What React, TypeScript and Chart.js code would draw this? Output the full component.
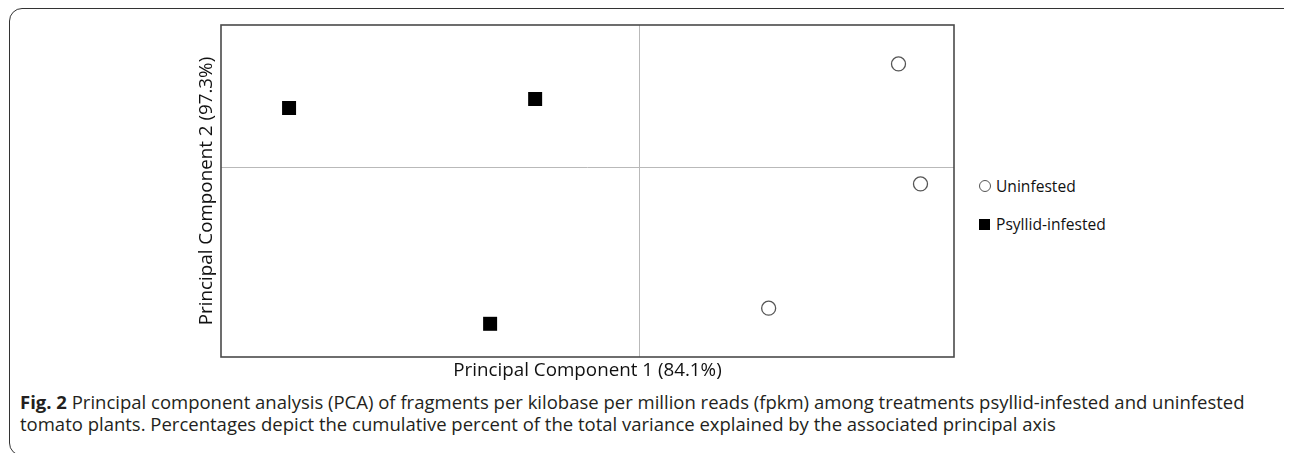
import React, { useEffect, useRef } from "react";
import { Chart, registerables } from "chart.js";

Chart.register(...registerables);

const seriesNames = ["Uninfested", "Psyllid-infested"];
const uninfestedX = [2.47, 2.68, 1.23];
const uninfestedY = [2.18, -0.35, -2.97];
const psyllidX = [-3.35, -1.0, -1.43];
const psyllidY = [1.25, 1.44, -3.3];
const xTitle = "Principal Component 1 (84.1%)";
const yTitle = "Principal Component 2 (97.3%)";
const xRange = [-4, 3];
const yRange = [-4, 3];
const captionBold = "Fig. 2";
const captionText =
  " Principal component analysis (PCA) of fragments per kilobase per million reads (fpkm) among treatments psyllid-infested and uninfested tomato plants. Percentages depict the cumulative percent of the total variance explained by the associated principal axis";

const FONT = "'Open Sans', 'Noto Sans', sans-serif";

const framePlugin = {
  id: "frame",
  afterDraw(chart: any) {
    const { ctx, chartArea } = chart;
    ctx.save();
    ctx.strokeStyle = "#4a4a4a";
    ctx.lineWidth = 1.6;
    ctx.strokeRect(chartArea.left, chartArea.top, chartArea.right - chartArea.left, chartArea.bottom - chartArea.top);
    ctx.restore();
  },
};

export default function App() {
  const ref = useRef<HTMLCanvasElement | null>(null);

  useEffect(() => {
    if (!ref.current) return;
    const zeroGrid = (c: any) => (c.tick && c.tick.value === 0 ? "#b9b9b9" : "rgba(0,0,0,0)");
    const chart = new Chart(ref.current, {
      type: "scatter",
      data: {
        datasets: [
          {
            label: seriesNames[0],
            data: uninfestedX.map((x, i) => ({ x, y: uninfestedY[i] })),
            pointStyle: "circle",
            pointRadius: 7,
            pointBackgroundColor: "#ffffff",
            pointBorderColor: "#555555",
            pointBorderWidth: 1.3,
          },
          {
            label: seriesNames[1],
            data: psyllidX.map((x, i) => ({ x, y: psyllidY[i] })),
            pointStyle: "rect",
            pointRadius: 9.9,
            pointBackgroundColor: "#000000",
            pointBorderColor: "#000000",
            pointBorderWidth: 0,
          },
        ],
      },
      options: {
        animation: false,
        responsive: false,
        maintainAspectRatio: false,
        layout: { autoPadding: false, padding: { top: 5, right: 2, left: 0, bottom: 0 } },
        plugins: { legend: { display: false }, tooltip: { enabled: false } },
        scales: {
          x: {
            type: "linear",
            min: xRange[0],
            max: xRange[1],
            ticks: { display: false, stepSize: 1 },
            grid: { color: zeroGrid, lineWidth: 1, drawTicks: false },
            border: { display: false },
            title: {
              display: true,
              text: xTitle,
              color: "#111",
              font: { family: FONT, size: 18.8 },
              padding: { top: 0, bottom: 1.7 },
            },
            afterFit: (s: any) => {
              s.height = 27;
            },
          },
          y: {
            type: "linear",
            min: yRange[0],
            max: yRange[1],
            ticks: { display: false, stepSize: 1 },
            grid: { color: zeroGrid, lineWidth: 1, drawTicks: false },
            border: { display: false },
            title: {
              display: true,
              text: yTitle,
              color: "#111",
              font: { family: FONT, size: 18.8 },
              padding: { top: 0.7, bottom: 0 },
            },
            afterFit: (s: any) => {
              s.width = 26;
            },
          },
        },
      },
      plugins: [framePlugin],
    });
    return () => chart.destroy();
  }, []);

  return (
    <div style={{ position: "relative", width: 1284, height: 445, overflow: "hidden", fontFamily: FONT }}>
      <div
        style={{
          position: "absolute",
          left: 1,
          top: 0,
          width: 1300,
          height: 448,
          border: "1.7px solid #333",
          borderRadius: 13,
          boxSizing: "border-box",
        }}
      />
      <canvas
        ref={ref}
        width={761}
        height={364}
        style={{ position: "absolute", left: 187, top: 12, width: 761, height: 364 }}
      />
      <div style={{ position: "absolute", left: 971, top: 170, fontSize: 15.6, color: "#111", lineHeight: "16px" }}>
        <div style={{ display: "flex", alignItems: "center", height: 16 }}>
          <span
            style={{
              display: "inline-block",
              width: 12,
              height: 12,
              borderRadius: "50%",
              border: "1.3px solid #555",
              boxSizing: "border-box",
              marginRight: 5,
            }}
          />
          <span>{seriesNames[0]}</span>
        </div>
        <div style={{ display: "flex", alignItems: "center", height: 16, marginTop: 22 }}>
          <span style={{ display: "inline-block", width: 11, height: 11, background: "#000", marginRight: 6 }} />
          <span>{seriesNames[1]}</span>
        </div>
      </div>
      <div
        style={{
          position: "absolute",
          left: 12,
          top: 383,
          width: 1250,
          fontSize: 18.5,
          lineHeight: "22px",
          color: "#231f20",
        }}
      >
        <b>{captionBold}</b>
        {captionText}
      </div>
    </div>
  );
}
